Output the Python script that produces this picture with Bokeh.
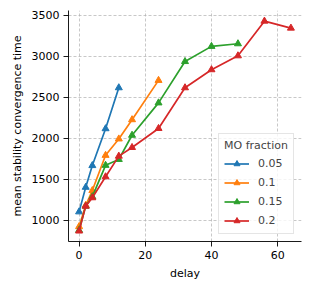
from bokeh.plotting import figure
from bokeh.models import Range1d, Legend, LegendItem, FixedTicker
from bokeh.embed import file_html
from bokeh.resources import INLINE

delay_005 = [0, 2, 4, 8, 12]
time_005 = [1100, 1400, 1665, 2115, 2615]

delay_01 = [0, 2, 4, 8, 12, 16, 24]
time_01 = [920, 1180, 1360, 1790, 1990, 2225, 2705]

delay_015 = [0, 2, 4, 8, 12, 16, 24, 32, 40, 48]
time_015 = [875, 1170, 1285, 1668, 1740, 2035, 2430, 2935, 3120, 3152]

delay_02 = [0, 2, 4, 8, 12, 16, 24, 32, 40, 48, 56, 64]
time_02 = [866, 1170, 1272, 1528, 1780, 1886, 2118, 2615, 2835, 3005, 3428, 3343]

labels = ["0.05", "0.1", "0.15", "0.2"]
colors = ["#1f77b4", "#ff7f0e", "#2ca02c", "#d62728"]
xs_all = [delay_005, delay_01, delay_015, delay_02]
ys_all = [time_005, time_01, time_015, time_02]

x_ticks = [0, 20, 40, 60]
y_ticks = [1000, 1500, 2000, 2500, 3000, 3500]

FONT = "DejaVu Sans"
FS = "11px"

p = figure(width=310, height=292, output_backend="svg", toolbar_location=None,
           x_range=Range1d(-3.2, 67.2), y_range=Range1d(738, 3558),
           min_border_left=68, min_border_right=9, min_border_top=10, min_border_bottom=51)
p.outline_line_color = None

items = []
for label, xs, ys, color in zip(labels, xs_all, ys_all, colors):
    r1 = p.line(xs, ys, line_color=color, line_width=1.7)
    r2 = p.scatter(xs, ys, marker="triangle", size=7, fill_color=color, line_color=color)
    items.append(LegendItem(label=label, renderers=[r1, r2]))

for ax in (p.xaxis, p.yaxis):
    ax.axis_line_color = "black"
    ax.axis_line_width = 0.9
    ax.major_tick_line_color = "black"
    ax.major_tick_line_width = 0.9
    ax.major_tick_out = 5
    ax.major_tick_in = 0
    ax.minor_tick_line_color = None
    ax.major_label_text_font = FONT
    ax.major_label_text_font_size = FS
    ax.major_label_text_color = "black"
    ax.axis_label_text_font = FONT
    ax.axis_label_text_font_size = FS
    ax.axis_label_text_font_style = "normal"
    ax.axis_label_text_color = "black"

p.xaxis.ticker = FixedTicker(ticks=x_ticks)
p.yaxis.ticker = FixedTicker(ticks=y_ticks)
p.xaxis.axis_label = "delay"
p.yaxis.axis_label = "mean stability convergence time"
p.xaxis.major_label_standoff = 4
p.yaxis.major_label_standoff = 4
p.xaxis.axis_label_standoff = 5
p.yaxis.axis_label_standoff = 5

for g in (p.xgrid, p.ygrid):
    g.grid_line_color = "#b0b0b0"
    g.grid_line_dash = "3 2"
    g.grid_line_width = 0.7

legend = Legend(items=items, location=(150, 7), title="MO fraction")
legend.title_text_font = FONT
legend.title_text_font_size = FS
legend.title_text_font_style = "normal"
legend.title_standoff = 4
legend.label_text_font = FONT
legend.label_text_font_size = FS
legend.glyph_width = 25
legend.glyph_height = 15
legend.label_standoff = 9
legend.label_height = 15
legend.spacing = 4
legend.padding = 5
legend.margin = 0
legend.border_line_color = "#cccccc"
legend.background_fill_alpha = 0.8
p.add_layout(legend)

open("out.html", "w").write(file_html(p, INLINE))
